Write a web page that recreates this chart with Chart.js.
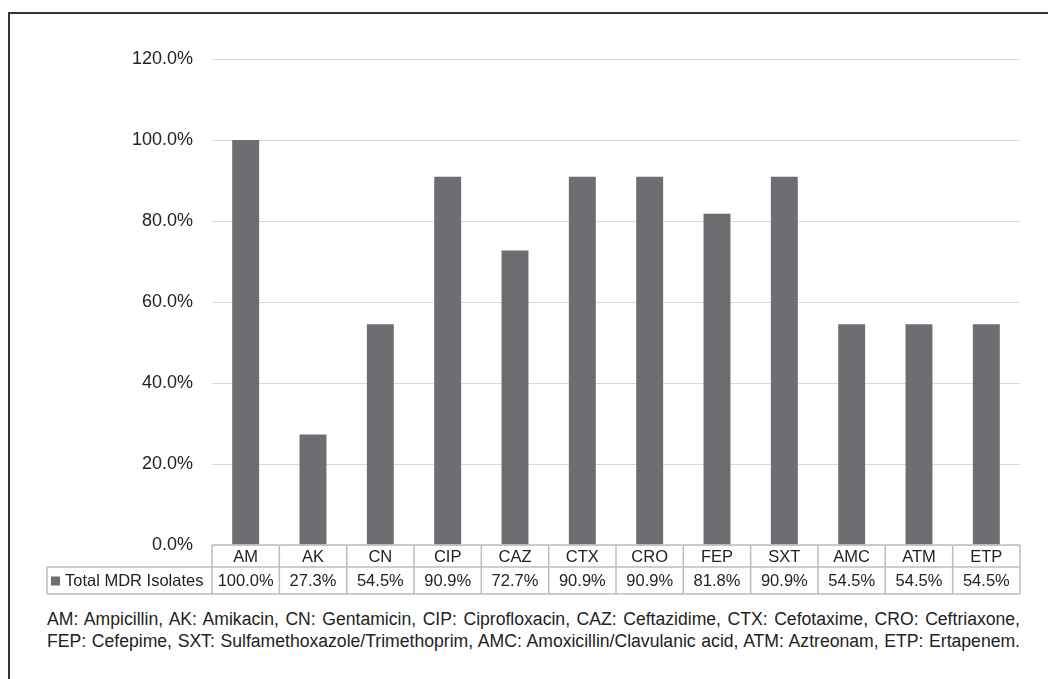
<!DOCTYPE html>
<html>
<head>
<meta charset="utf-8">
<script src="https://cdn.jsdelivr.net/npm/chart.js@4.4.0/dist/chart.umd.min.js"></script>
<style>
    body { margin: 0; background: #fff; font-family: "Liberation Sans", Arial, sans-serif; }
    #frame { position: absolute; left: 8px; top: 12px; width: 1100px; height: 700px; border-left: 2px solid #333; border-top: 2px solid #333; }
    #chart { position: absolute; left: 0; top: 0; }
    #note { position: absolute; left: 47px; top: 608px; width: 973px; font-size: 17.6px; line-height: 22px; color: #222; }
    #note div { text-align: justify; text-align-last: justify; white-space: nowrap; }
</style>
</head>
<body>
<div id="frame"></div>
<canvas id="chart" width="1048" height="600"></canvas>
<div id="note">
    <div>AM: Ampicillin, AK: Amikacin, CN: Gentamicin, CIP: Ciprofloxacin, CAZ: Ceftazidime, CTX: Cefotaxime, CRO: Ceftriaxone,</div>
    <div>FEP: Cefepime, SXT: Sulfamethoxazole/Trimethoprim, AMC: Amoxicillin/Clavulanic acid, ATM: Aztreonam, ETP: Ertapenem.</div>
</div>
<script>
var categories = ['AM', 'AK', 'CN', 'CIP', 'CAZ', 'CTX', 'CRO', 'FEP', 'SXT', 'AMC', 'ATM', 'ETP'];
var seriesName = 'Total MDR Isolates';
var mdrValues = [100.0, 27.3, 54.5, 90.9, 72.7, 90.9, 90.9, 81.8, 90.9, 54.5, 54.5, 54.5];
var yTicks = [0, 20, 40, 60, 80, 100, 120];

var BAR_COLOR = '#6d6e71';
var TEXT_COLOR = '#222';
var TABLE_LINE = '#bdbdbd';

// data table under the plot, columns follow the x scale
var tablePlugin = {
    id: 'dataTable',
    afterDraw: function (chart) {
        var ctx = chart.ctx;
        var x = chart.scales.x;
        var area = chart.chartArea;
        var colW = (area.right - area.left) / categories.length;
        var top = area.bottom, mid = top + 22, bot = mid + 27;
        var legendLeft = 47;

        ctx.save();
        ctx.strokeStyle = TABLE_LINE;
        ctx.lineWidth = 1.5;
        ctx.beginPath();
        ctx.moveTo(area.left, top); ctx.lineTo(area.right, top);
        ctx.moveTo(legendLeft, mid); ctx.lineTo(area.right, mid);
        ctx.moveTo(legendLeft, bot); ctx.lineTo(area.right, bot);
        ctx.moveTo(legendLeft, mid); ctx.lineTo(legendLeft, bot);
        for (var i = 0; i <= categories.length; i++) {
            var lx = area.left + i * colW;
            ctx.moveTo(lx, top); ctx.lineTo(lx, bot);
        }
        ctx.stroke();

        ctx.fillStyle = TEXT_COLOR;
        ctx.font = '16.5px "Liberation Sans", Arial, sans-serif';
        ctx.textAlign = 'center';
        ctx.textBaseline = 'middle';
        for (var j = 0; j < categories.length; j++) {
            var cx = x.getPixelForValue(j);
            ctx.fillText(categories[j], cx, (top + mid) / 2 + 1);
            ctx.fillText(mdrValues[j].toFixed(1) + '%', cx, (mid + bot) / 2 + 1);
        }

        ctx.fillStyle = BAR_COLOR;
        ctx.fillRect(51, (mid + bot) / 2 - 4, 9, 9);
        ctx.fillStyle = TEXT_COLOR;
        ctx.textAlign = 'left';
        ctx.fillText(seriesName, 65, (mid + bot) / 2 + 1);
        ctx.restore();
    }
};

var ctx = document.getElementById('chart');
var myChart = new Chart(ctx, {
    type: 'bar',
    data: {
        labels: categories,
        datasets: [{
            label: seriesName,
            data: mdrValues,
            backgroundColor: BAR_COLOR,
            categoryPercentage: 1,
            barPercentage: 0.4
        }]
    },
    options: {
        responsive: false,
        animation: false,
        layout: { padding: { left: 0, right: 28, top: 59, bottom: 55 } },
        plugins: {
            legend: { display: false },
            tooltip: { enabled: false }
        },
        scales: {
            x: { display: false },
            y: {
                min: 0,
                max: 120,
                afterFit: function (scale) { scale.width = 212; },
                afterBuildTicks: function (scale) {
                    scale.ticks = yTicks.map(function (v) { return { value: v }; });
                },
                border: { display: false },
                grid: { color: '#d9d9d9', lineWidth: 1, drawTicks: false },
                ticks: {
                    padding: 19,
                    color: TEXT_COLOR,
                    font: { family: '"Liberation Sans", Arial, sans-serif', size: 18 },
                    callback: function (v) { return v.toFixed(1) + '%'; }
                }
            }
        }
    },
    plugins: [tablePlugin]
});
</script>
</body>
</html>
